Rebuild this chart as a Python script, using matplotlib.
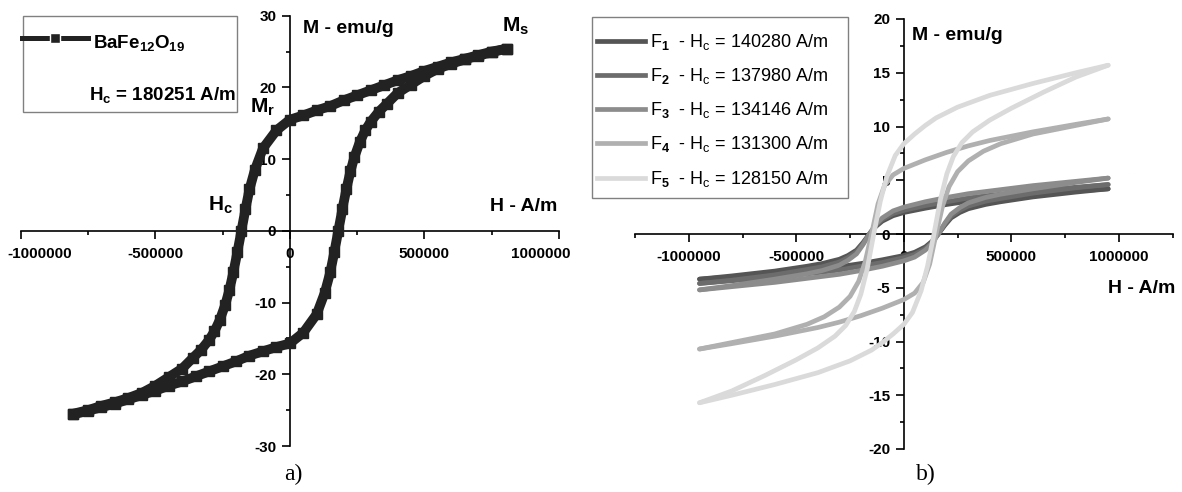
import matplotlib
matplotlib.use('Agg')
import matplotlib.pyplot as plt
from matplotlib.lines import Line2D
from matplotlib.patches import Rectangle
from matplotlib.transforms import ScaledTranslation

plt.rcParams['font.family'] = ['Liberation Sans', 'DejaVu Sans']
plt.rcParams['mathtext.fontset'] = 'custom'
plt.rcParams['mathtext.rm'] = 'Liberation Sans'
plt.rcParams['mathtext.bf'] = 'Liberation Sans:bold'
plt.rcParams['mathtext.it'] = 'Liberation Sans:italic'

# ---------------- data: panel a) BaFe12O19 ----------------
bafe_up_H = [805000, 750000, 700000, 650000, 600000, 550000, 500000, 450000, 400000,
             350000, 300000, 250000, 200000, 150000, 100000, 50000, 0,
             -50000, -100000, -130000, -150000, -165000, -180000, -195000, -210000,
             -225000, -240000, -260000, -280000, -300000, -330000, -360000, -400000,
             -450000, -500000, -550000, -600000, -650000, -700000, -750000, -805000]
bafe_up_M = [25.4, 25.0, 24.5, 24.0, 23.5, 22.9, 22.3, 21.6, 21.0,
             20.3, 19.6, 18.9, 18.2, 17.4, 16.8, 16.1, 15.5,
             14.0, 11.5, 8.5, 5.8, 3.0, 0.0, -3.0, -5.8,
             -8.3, -10.3, -12.4, -14.0, -15.2, -16.6, -17.7, -19.2,
             -20.4, -21.6, -22.6, -23.3, -23.9, -24.4, -25.0, -25.5]
bafe_lo_H = [-805000, -750000, -700000, -650000, -600000, -550000, -500000, -450000, -400000,
             -350000, -300000, -250000, -200000, -150000, -100000, -50000, 0,
             50000, 100000, 130000, 150000, 165000, 180000, 195000, 210000,
             225000, 240000, 260000, 280000, 300000, 330000, 360000, 400000,
             450000, 500000, 550000, 600000, 650000, 700000, 750000, 805000]
bafe_lo_M = [-25.6, -25.1, -24.6, -24.1, -23.5, -22.9, -22.3, -21.6, -21.0,
             -20.3, -19.6, -18.9, -18.2, -17.4, -16.8, -16.2, -15.7,
             -14.2, -11.6, -8.6, -5.8, -3.0, 0.0, 3.0, 5.8,
             8.3, 10.3, 12.4, 14.0, 15.2, 16.6, 17.7, 19.2,
             20.4, 21.6, 22.6, 23.3, 23.9, 24.4, 24.9, 25.4]

a_xticks = [-1000000, -500000, 0, 500000, 1000000]
a_xticklabels = ['-1000000', '-500000', '0', '500000', '1000000']
a_yticks = [-30, -20, -10, 0, 10, 20, 30]
a_yticklabels = ['-30', '-20', '-10', '0', '10', '20', '30']

# ---------------- data: panel b) F1..F5 ----------------
f_names = ['F$_\\mathbf{1}$  - H$_\\mathrm{c}$ = 140280 A/m',
           'F$_\\mathbf{2}$  - H$_\\mathrm{c}$ = 137980 A/m',
           'F$_\\mathbf{3}$  - H$_\\mathrm{c}$ = 134146 A/m',
           'F$_\\mathbf{4}$  - H$_\\mathrm{c}$ = 131300 A/m',
           'F$_\\mathbf{5}$  - H$_\\mathrm{c}$ = 128150 A/m']
f_colors = ['#555555', '#6c6c6c', '#8c8c8c', '#b0b0b0', '#dadada']

f123_up_H = [950000, 800000, 600000, 400000, 300000, 200000, 100000, 50000, 0,
             -50000, -100000, -130000, -160000, -190000, -220000, -260000, -300000,
             -380000, -450000, -600000, -800000, -950000]
f123_lo_H = [-950000, -800000, -600000, -400000, -300000, -200000, -100000, -50000, 0,
             50000, 100000, 130000, 160000, 190000, 220000, 260000, 300000,
             380000, 450000, 600000, 800000, 950000]
f1_up_M = [4.2, 4.0, 3.7, 3.3, 3.05, 2.75, 2.4, 2.2, 2.0,
           1.7, 1.2, 0.7, 0.0, -0.8, -1.5, -2.0, -2.35,
           -2.75, -3.0, -3.45, -3.9, -4.2]
f1_lo_M = [-4.2, -4.0, -3.7, -3.3, -3.05, -2.75, -2.4, -2.2, -2.0,
           -1.7, -1.2, -0.7, 0.0, 0.8, 1.5, 2.0, 2.35,
           2.75, 3.0, 3.45, 3.9, 4.2]
f2_up_M = [4.6, 4.35, 4.0, 3.6, 3.35, 3.0, 2.65, 2.42, 2.2,
           1.9, 1.35, 0.8, 0.0, -0.9, -1.65, -2.2, -2.6,
           -3.05, -3.3, -3.8, -4.3, -4.6]
f2_lo_M = [-4.6, -4.35, -4.0, -3.6, -3.35, -3.0, -2.65, -2.42, -2.2,
           -1.9, -1.35, -0.8, 0.0, 0.9, 1.65, 2.2, 2.6,
           3.05, 3.3, 3.8, 4.3, 4.6]
f3_up_M = [5.2, 4.9, 4.5, 4.0, 3.75, 3.4, 3.0, 2.75, 2.5,
           2.15, 1.5, 0.9, 0.0, -1.0, -1.85, -2.45, -2.9,
           -3.4, -3.7, -4.2, -4.8, -5.2]
f3_lo_M = [-5.2, -4.9, -4.5, -4.0, -3.75, -3.4, -3.0, -2.75, -2.5,
           -2.15, -1.5, -0.9, 0.0, 1.0, 1.85, 2.45, 2.9,
           3.4, 3.7, 4.2, 4.8, 5.2]

f4_up_H = [950000, 800000, 600000, 400000, 300000, 200000, 100000, 0, -50000, -90000,
           -120000, -150000, -180000, -210000, -250000, -300000, -370000, -450000,
           -600000, -800000, -950000]
f4_up_M = [10.7, 10.2, 9.5, 8.7, 8.2, 7.6, 6.9, 6.1, 5.5, 4.5,
           2.8, 0.0, -2.6, -4.4, -5.8, -6.8, -7.7, -8.4,
           -9.3, -10.1, -10.7]
f4_lo_H = [-950000, -800000, -600000, -400000, -300000, -200000, -100000, 0, 50000, 90000,
           120000, 150000, 180000, 210000, 250000, 300000, 370000, 450000,
           600000, 800000, 950000]
f4_lo_M = [-10.7, -10.2, -9.5, -8.7, -8.2, -7.6, -6.9, -6.1, -5.5, -4.5,
           -2.8, 0.0, 2.6, 4.4, 5.8, 6.8, 7.7, 8.4,
           9.3, 10.1, 10.7]

f5_up_H = [950000, 800000, 600000, 400000, 250000, 150000, 100000, 50000, 0, -40000,
           -80000, -110000, -140000, -170000, -200000, -230000, -270000, -320000,
           -400000, -500000, -650000, -800000, -950000]
f5_up_M = [15.7, 15.0, 14.0, 12.9, 11.8, 10.8, 10.1, 9.3, 8.4, 7.3,
           5.3, 3.0, 0.0, -3.2, -5.6, -7.2, -8.5, -9.5,
           -10.6, -11.7, -13.2, -14.6, -15.7]
f5_lo_H = [-950000, -800000, -600000, -400000, -250000, -150000, -100000, -50000, 0, 40000,
           80000, 110000, 140000, 170000, 200000, 230000, 270000, 320000,
           400000, 500000, 650000, 800000, 950000]
f5_lo_M = [-15.7, -15.0, -14.0, -12.9, -11.8, -10.8, -10.1, -9.3, -8.4, -7.3,
           -5.3, -3.0, 0.0, 3.2, 5.6, 7.2, 8.5, 9.5,
           10.6, 11.7, 13.2, 14.6, 15.7]

b_xticks = [-1000000, -500000, 0, 500000, 1000000]
b_xticklabels = ['-1000000', '-500000', '0', '500000', '1000000']
b_yticks = [-20, -15, -10, -5, 0, 5, 10, 15, 20]
b_yticklabels = ['-20', '-15', '-10', '-5', '0', '5', '10', '15', '20']

# ---------------- layout ----------------
W, H = 1182, 492
fig = plt.figure(figsize=(W / 100, H / 100), dpi=100)


def fx(x):
    return x / W


def fy(y):
    return 1 - y / H


axL = fig.add_axes([fx(20.7), fy(446), (559 - 20.7) / W, (446 - 15.7) / H])
axR = fig.add_axes([fx(635), fy(449), (1172.7 - 635) / W, (449 - 19) / H])

for ax in (axL, axR):
    ax.set_facecolor('none')
    ax.spines['left'].set_position(('data', 0))
    ax.spines['bottom'].set_position(('data', 0))
    ax.spines['top'].set_visible(False)
    ax.spines['right'].set_visible(False)
    for s in ('left', 'bottom'):
        ax.spines[s].set_linewidth(1.2)
    ax.tick_params(which='major', direction='out', length=5.8, width=1.2)
    ax.tick_params(axis='x', which='major', pad=6)
    ax.tick_params(axis='y', which='major', pad=4)
    ax.tick_params(which='minor', direction='out', length=3.0, width=1.2)

# panel a
line_a = dict(color='#222222', lw=7, marker='s', ms=7.5, solid_capstyle='butt',
              solid_joinstyle='round', zorder=3, clip_on=False)
axL.plot(bafe_up_H, bafe_up_M, **line_a)
axL.plot(bafe_lo_H, bafe_lo_M, **line_a)
axL.set_xlim(-1000000, 1000000)
axL.set_ylim(-30, 30)
axL.set_xticks(a_xticks)
axL.set_xticklabels(a_xticklabels, fontweight='bold', fontsize=11)
axL.set_xticks([-750000, -250000, 250000, 750000], minor=True)
axL.set_yticks(a_yticks)
axL.set_yticklabels(a_yticklabels, fontweight='bold', fontsize=11)
axL.set_yticks([-25, -15, -5, 5, 15, 25], minor=True)

ticks = axL.xaxis.get_major_ticks()
ticks[0].label1.set_horizontalalignment('left')
ticks[0].label1.set_transform(ticks[0].label1.get_transform() +
                              ScaledTranslation(-0.13, 0, fig.dpi_scale_trans))
ticks[-1].label1.set_horizontalalignment('right')
ticks[-1].label1.set_transform(ticks[-1].label1.get_transform() +
                               ScaledTranslation(0.12, 0, fig.dpi_scale_trans))

# panel b
f_up_H = [f123_up_H, f123_up_H, f123_up_H, f4_up_H, f5_up_H]
f_up_M = [f1_up_M, f2_up_M, f3_up_M, f4_up_M, f5_up_M]
f_lo_H = [f123_lo_H, f123_lo_H, f123_lo_H, f4_lo_H, f5_lo_H]
f_lo_M = [f1_lo_M, f2_lo_M, f3_lo_M, f4_lo_M, f5_lo_M]
for i in range(5):
    for hh, mm in ((f_up_H[i], f_up_M[i]), (f_lo_H[i], f_lo_M[i])):
        axR.plot(hh, mm, color=f_colors[i], lw=3.4, zorder=3 + i * 0.1,
                 solid_capstyle='round', solid_joinstyle='round')
axR.set_xlim(-1250000, 1250000)
axR.set_ylim(-20, 20)
axR.set_xticks(b_xticks)
axR.set_xticklabels(b_xticklabels, fontweight='bold', fontsize=11)
axR.set_xticks([-1250000, -750000, -250000, 250000, 750000, 1250000], minor=True)
axR.set_yticks(b_yticks)
axR.set_yticklabels(b_yticklabels, fontweight='bold', fontsize=11)
axR.set_yticks([-17.5, -12.5, -7.5, -2.5, 2.5, 7.5, 12.5, 17.5], minor=True)

# ---------------- legends ----------------
fig.add_artist(Rectangle((fx(23), fy(112)), (237 - 23) / W, (112 - 16) / H,
                         transform=fig.transFigure, fill=False, ec='#808080', lw=1))
fig.add_artist(Line2D([fx(22), fx(88)], [fy(38), fy(38)], color='#222222', lw=3.6,
                      transform=fig.transFigure))
fig.add_artist(Line2D([fx(55)], [fy(38)], color='#222222', marker='s', ms=7,
                      mec='white', mew=1.0, transform=fig.transFigure))
fig.text(fx(93), fy(48), r'BaFe$_\mathbf{12}$O$_\mathbf{19}$', fontsize=13.5,
         fontweight='bold', va='baseline', ha='left')
fig.text(fx(89), fy(100), r'H$_\mathbf{c}$ = 180251 A/m', fontsize=13.5,
         fontweight='bold', va='baseline', ha='left')

fig.add_artist(Rectangle((fx(592), fy(198)), (848 - 592) / W, (198 - 17) / H,
                         transform=fig.transFigure, fill=False, ec='#808080', lw=1))
rows = [47, 81, 115, 149, 183.5]
for i in range(5):
    fig.add_artist(Line2D([fx(597), fx(645)], [fy(rows[i] - 6), fy(rows[i] - 6)],
                          color=f_colors[i], lw=3.4, transform=fig.transFigure))
    fig.text(fx(650), fy(rows[i]), f_names[i], fontsize=13, va='baseline', ha='left')

# ---------------- annotations ----------------
fig.text(fx(303), fy(33), 'M - emu/g', fontsize=14, fontweight='bold', va='baseline')
fig.text(fx(502), fy(32), r'$\mathbf{M_s}$', fontsize=15, va='baseline')
fig.text(fx(250), fy(113), r'$\mathbf{M_r}$', fontsize=15, va='baseline')
fig.text(fx(208), fy(211), r'$\mathbf{H_c}$', fontsize=15, va='baseline')
fig.text(fx(490), fy(211), 'H - A/m', fontsize=14, fontweight='bold', va='baseline')

fig.text(fx(912), fy(40), 'M - emu/g', fontsize=14, fontweight='bold', va='baseline')
fig.text(fx(1108), fy(293), 'H - A/m', fontsize=14, fontweight='bold', va='baseline')

fig.text(fx(293), fy(474), 'a)', fontsize=17, family='Liberation Serif', ha='center',
         va='center')
fig.text(fx(926), fy(474), 'b)', fontsize=17, family='Liberation Serif', ha='center',
         va='center')

fig.savefig('out.png', dpi=100)
